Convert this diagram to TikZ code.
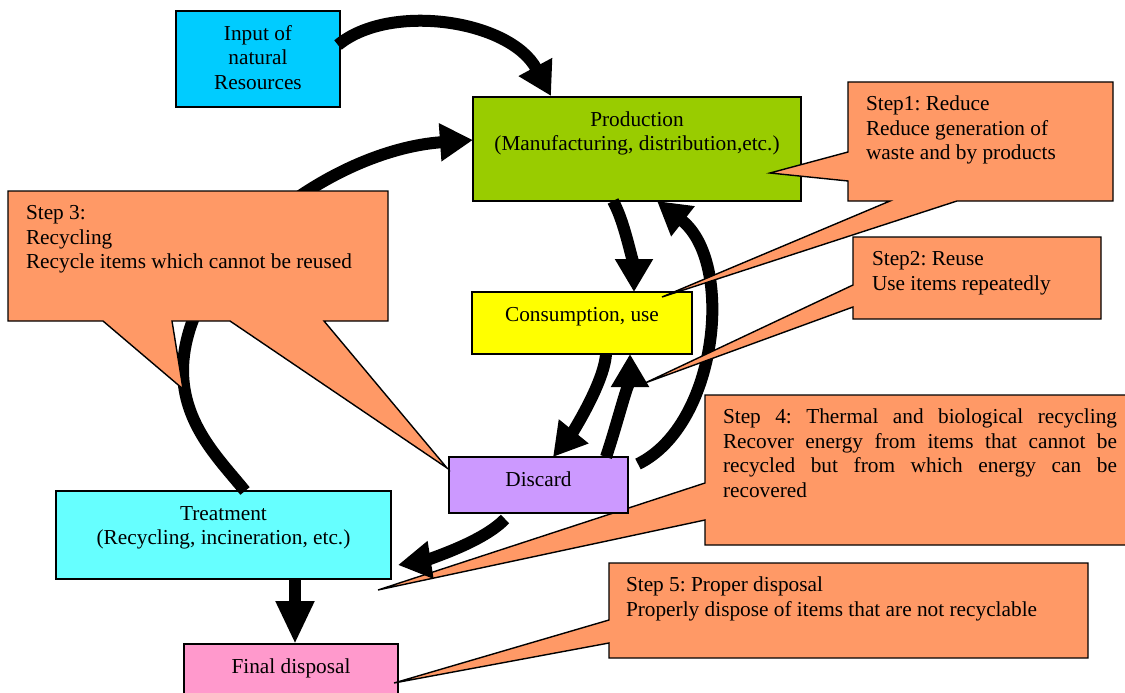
\documentclass[tikz,border=0pt]{standalone}
\usepackage{fontspec}
\setmainfont{Liberation Serif}
\usetikzlibrary{arrows.meta,calc}
\definecolor{cInput}{HTML}{00CCFF}
\definecolor{cProd}{HTML}{99CC00}
\definecolor{cCons}{HTML}{FFFF00}
\definecolor{cDisc}{HTML}{CC99FF}
\definecolor{cTreat}{HTML}{66FFFF}
\definecolor{cFinal}{HTML}{FF99CC}
\definecolor{cCall}{HTML}{FF9966}
\frenchspacing
\newcommand{\bxtxt}[3]{\begin{minipage}[c][#2][t]{#1}\vspace*{11.9pt}\centering\strut #3\end{minipage}}
\newcommand{\cotxt}[3]{\begin{minipage}[c][#2][t]{#1}\raggedright\vspace*{11.5pt}\strut #3\end{minipage}}
\begin{document}
\begin{tikzpicture}[x=1pt,y=-1pt,
  txtfont/.style={font=\fontsize{21.3}{24.6}\selectfont},
  box/.style={draw=black, line width=1.4pt, inner sep=0pt, outer sep=0pt, anchor=north west, txtfont},
  ctext/.style={inner sep=0pt, outer sep=0pt, anchor=north west, txtfont},
  callout/.style={draw=black, line width=1.4pt, fill=cCall},
  flow/.style={line width=12pt, -{Triangle[length=33pt,width=36pt]}},
]
\fill[white] (0,0) rectangle (1125,693);
\useasboundingbox (0,0) rectangle (1125,693);
\clip (0,0) rectangle (1125,693);

% Step 4 callout (below the boxes and arrows)
\path[callout] (705,395) -- (1140,395) -- (1140,545) -- (705,545) -- (705,520) -- (378,590) -- (705,483) -- cycle;
\node[ctext] (t4) at (723,395) {\begin{minipage}[c][150pt][t]{394pt}\vspace*{11.5pt}\strut Step 4: Thermal and biological recycling\linebreak Recover energy from items that cannot be\linebreak recycled but from which energy can be\linebreak recovered\end{minipage}};

% boxes
\node[box, fill=cInput] (input) at (176,11) {\bxtxt{164pt}{96pt}{Input of\\natural\\Resources}};
\node[box, fill=cProd] (prod) at (473,97) {\bxtxt{328pt}{104pt}{Production\\(Manufacturing, distribution,etc.)}};
\node[box, fill=cCons] (cons) at (472,292) {\bxtxt{220pt}{62pt}{Consumption, use}};
\node[box, fill=cDisc] (disc) at (449,457) {\bxtxt{179pt}{56pt}{Discard}};
\node[box, fill=cTreat] (treat) at (56,491) {\bxtxt{335pt}{88pt}{Treatment\\(Recycling, incineration, etc.)}};
\node[box, fill=cFinal] (final) at (184,644) {\bxtxt{214pt}{60pt}{Final disposal}};

% arrows
\draw[flow] ($(input.north east)+(-2,34)$) .. controls (390,2) and (510,20) .. ($(prod.north west)+(78,-1)$);
\draw[flow] ($(treat.north west)+(189,0)$) .. controls (220,460) and (183,425) .. (183,370) .. controls (184,260) and (330,150) .. ($(prod.north west)+(0,43)$);
\draw[flow] ($(prod.south west)+(140,0)$) .. controls (626,224) and (634,273) .. ($(cons.north west)+(162,0)$);
\draw[flow] ($(cons.south west)+(134,0)$) .. controls (604,384) and (570,436) .. ($(disc.north west)+(104,0)$);
\draw[flow] ($(disc.north west)+(157,0)$) .. controls (617,425) and (630,372) .. ($(cons.south west)+(158,0)$);
\draw[flow] ($(disc.north east)+(10,7)$) .. controls (718,425) and (735,262) .. ($(prod.south west)+(184,0)$);
\draw[flow] ($(disc.south west)+(56,6)$) .. controls (480,545) and (417,562) .. ($(treat.north east)+(7,74)$);
\draw[flow, -{Triangle[length=43pt,width=36pt]}] ($(treat.south west)+(239,0)$) -- ($(final.north west)+(111,0)$);

% callouts on top
\path[callout] (848,82) -- (1113,82) -- (1113,201) -- (957,201) -- (662,297) -- (890,201) -- (848,201) -- (848,181) -- (770,173) -- (848,152) -- cycle;
\node[ctext] (t1) at (866,82) {\cotxt{240pt}{119pt}{Step1: Reduce\\Reduce generation of\\waste and by products}};

\path[callout] (853,237) -- (1101,237) -- (1101,319) -- (853,319) -- (853,307) -- (645,383) -- (853,285) -- cycle;
\node[ctext] (t2) at (872,237) {\cotxt{225pt}{82pt}{Step2: Reuse\\Use items repeatedly}};

\path[callout] (8,191) -- (388,191) -- (388,321) -- (324,321) -- (447,468) -- (230,321) -- (172,321) -- (183,389) -- (103,321) -- (8,321) -- cycle;
\node[ctext] (t3) at (26,191) {\cotxt{360pt}{130pt}{Step 3:\\Recycling\\Recycle items which cannot be reused}};

\path[callout] (609,563) -- (1088,563) -- (1088,658) -- (609,658) -- (609,643) -- (394,683) -- (609,620) -- cycle;
\node[ctext] (t5) at (626,563) {\cotxt{460pt}{95pt}{Step 5: Proper disposal\\Properly dispose of items that are not recyclable}};
\end{tikzpicture}
\end{document}
